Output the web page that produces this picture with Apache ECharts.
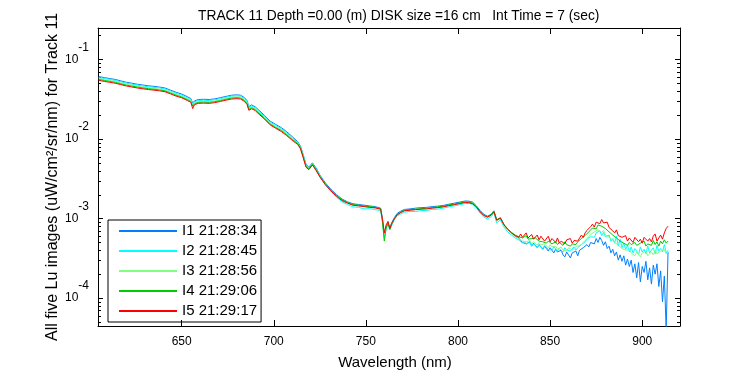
<!DOCTYPE html>
<html>
<head>
<meta charset="utf-8">
<script src="https://cdn.jsdelivr.net/npm/echarts@6/dist/echarts.min.js"></script>
<style>
  html, body { margin: 0; padding: 0; background: #fff; }
  #chart { width: 750px; height: 375px; }
</style>
</head>
<body>
<div id="chart"></div>
<script>
(function () {

    var FONT = '"Liberation Sans", Arial, Helvetica, sans-serif';

    // wavelength (nm)
    var wavelength = [
        605, 608, 611, 614, 617, 620, 623, 626, 629, 632, 635, 638, 641, 644, 647, 650, 653, 655,
        656, 657, 659, 662, 665, 668, 671, 674, 677, 680, 682, 684, 685.5, 686.5, 688, 690, 692, 695, 698,
        701, 704, 707, 710, 713, 714.5, 716, 717.5, 719, 721, 723, 725, 728, 731, 734, 737, 740,
        743, 746, 749, 752, 755, 758, 759, 760, 761, 762, 763, 764, 765.5, 767, 769,
        771, 774, 777, 780, 783, 786, 789, 792, 795, 798, 801, 804,
        806, 808, 810, 812, 814, 816, 818, 819.5, 821, 823, 825, 827, 829, 831, 833,
        834, 835, 836, 837, 838, 839, 840, 841, 842, 843, 844, 845, 846, 847, 848, 849, 850, 851, 852, 853,
        854, 855, 856, 857, 858, 859, 860, 861, 862, 863, 864, 865, 866, 867, 868, 869, 870, 871, 872, 873,
        874, 875, 876, 877, 878, 879, 880, 881, 882, 883, 884, 885, 886, 887, 888, 889, 890, 891, 892, 893,
        894, 895, 896, 897, 898, 899, 900, 901, 902, 903, 904, 905, 906, 907, 908, 909, 910, 911, 912, 913, 914
    ];

    var i1 = [
        .0606, .0588, .0572, .0557, .0535, .0514, .0500, .0485, .0474, .0464, .0456, .0447, .0435, .0409, .0384, .0366, .0339, .0321,
        .0281, .0300, .0312, .0314, .0312, .0318, .0329, .0341, .0353, .0357, .0353, .0331, .0302, .0254, .0267, .0252, .0228, .0197, .0167,
        .0152, .0139, .0123, .0107, .0092, .0081, .0063, .0048, .0044, .0050, .0043, .00352, .00280, .00233, .00200, .00176, .00162,
        .00153, .00150, .00147, .00144, .00141, .00135, .00100, .00062, .00078, .00087, .00076, .00088, .00103, .00116, .00124,
        .00130, .00132, .00135, .00137, .00138, .00141, .00143, .00146, .00151, .00156, .00161, .00166,
        .00165, .00160, .00144, .00126, .00113, .00107, .00113, .00125, .00096, .00102, .00083, .00073, .00066, .00060, .00057,
        .00053, .00050, .00052, .00048, .00047, .00051, .00045, .00049, .00046, .00043, .00047, .00044, .00041, .00045, .00042, .00039, .00043, .00040, .00037, .00041,
        .00038, .00036, .00040, .00035, .00033, .00038, .00036, .00032, .00037, .00035, .00039, .00034, .00040, .00038, .00043, .00041, .00047, .00044, .00050, .00052,
        .00048, .00056, .00050, .00058, .00053, .00046, .00051, .00042, .00045, .00037, .00041, .00034, .00038, .00030, .00035, .00029, .00034, .00026, .00031, .00025,
        .00030, .00021, .00027, .00018, .00028, .00016, .00025, .00021, .00029, .00017, .00024, .00015, .00026, .00020, .00027, .00014, .00022, .00009, .00019, .00004, .00038
    ];

    var i2 = [
        .0589, .0572, .0556, .0541, .0520, .0500, .0486, .0472, .0460, .0451, .0443, .0435, .0422, .0398, .0373, .0355, .0330, .0312,
        .0273, .0291, .0303, .0305, .0303, .0309, .0319, .0332, .0343, .0347, .0343, .0321, .0294, .0247, .0260, .0245, .0221, .0192, .0163,
        .0147, .0135, .0119, .0104, .0090, .0079, .0061, .0047, .0043, .0049, .0042, .00343, .00268, .00220, .00186, .00162, .00150,
        .00140, .00138, .00132, .00133, .00129, .00126, .00090, .00057, .00075, .00084, .00072, .00082, .00097, .00108, .00114,
        .00120, .00123, .00122, .00126, .00126, .00130, .00131, .00135, .00140, .00144, .00149, .00154,
        .00155, .00150, .00136, .00117, .00104, .00099, .00105, .00117, .00088, .00096, .00078, .00068, .00062, .00057, .00054,
        .00051, .00049, .00052, .00048, .00047, .00050, .00045, .00048, .00046, .00043, .00047, .00045, .00042, .00046, .00044, .00041, .00043, .00040, .00044, .00042,
        .00039, .00042, .00041, .00038, .00043, .00040, .00042, .00039, .00041, .00044, .00040, .00043, .00045, .00047, .00049, .00051, .00055, .00054, .00059, .00062,
        .00058, .00066, .00063, .00070, .00061, .00067, .00059, .00057, .00062, .00052, .00056, .00049, .00060, .00045, .00055, .00043, .00049, .00041, .00046, .00038,
        .00044, .00037, .00042, .00039, .00035, .00044, .00038, .00041, .00036, .00045, .00037, .00040, .00043, .00036, .00046, .00039, .00042, .00038, .00047, .00037, .00040
    ];

    var i3 = [
        .0572, .0555, .0540, .0525, .0505, .0485, .0472, .0458, .0447, .0438, .0430, .0422, .0410, .0386, .0362, .0345, .0320, .0303,
        .0265, .0283, .0294, .0296, .0294, .0300, .0310, .0322, .0333, .0337, .0333, .0312, .0285, .0240, .0252, .0238, .0215, .0186, .0158,
        .0143, .0131, .0116, .0101, .0088, .0078, .0060, .0046, .0042, .0048, .0041, .0034, .0027, .00225, .00193, .00170, .00157,
        .00148, .00145, .00142, .00139, .00137, .00131, .00095, .00060, .00080, .00090, .00074, .00086, .00100, .00112, .00120,
        .00126, .00128, .00130, .00132, .00133, .00136, .00138, .00141, .00146, .00150, .00155, .00160,
        .00160, .00155, .00140, .00122, .00110, .00104, .00110, .00122, .00094, .00100, .00082, .00072, .00065, .00060, .00056,
        .00055, .00052, .00054, .00051, .00050, .00053, .00048, .00051, .00049, .00046, .00050, .00047, .00045, .00048, .00046, .00043, .00047, .00044, .00042, .00045,
        .00041, .00043, .00044, .00040, .00042, .00039, .00043, .00041, .00040, .00043, .00042, .00045, .00044, .00047, .00050, .00052, .00056, .00058, .00063, .00064,
        .00068, .00066, .00072, .00070, .00067, .00071, .00062, .00065, .00059, .00056, .00053, .00050, .00048, .00046, .00044, .00042, .00043, .00040, .00039, .00041,
        .00037, .00039, .00034, .00038, .00036, .00033, .00037, .00035, .00039, .00034, .00036, .00038, .00035, .00040, .00036, .00034, .00039, .00037, .00041, .00036, .00038
    ];

    var i4 = [
        .0558, .0541, .0527, .0512, .0492, .0473, .0460, .0447, .0436, .0427, .0419, .0411, .0400, .0376, .0353, .0336, .0312, .0295,
        .0258, .0276, .0287, .0289, .0287, .0293, .0302, .0314, .0325, .0329, .0325, .0304, .0278, .0234, .0246, .0232, .0210, .0181, .0154,
        .0139, .0128, .0113, .00985, .0087, .0077, .0059, .0045, .0042, .0048, .0041, .00338, .00272, .00227, .00195, .00172, .00159,
        .00150, .00147, .00144, .00141, .00138, .00133, .00092, .00052, .00076, .00088, .00073, .00084, .00099, .00113, .00121,
        .00127, .00130, .00131, .00133, .00135, .00137, .00140, .00143, .00148, .00152, .00157, .00162,
        .00161, .00156, .00141, .00123, .00111, .00105, .00112, .00124, .00096, .00102, .00084, .00074, .00067, .00062, .00059,
        .00060, .00057, .00059, .00061, .00055, .00058, .00056, .00053, .00057, .00054, .00052, .00055, .00051, .00054, .00049, .00052, .00053, .00048, .00050, .00051,
        .00047, .00050, .00048, .00046, .00051, .00047, .00049, .00045, .00048, .00050, .00047, .00051, .00053, .00056, .00057, .00061, .00064, .00068, .00071, .00076,
        .00079, .00074, .00083, .00086, .00080, .00081, .00075, .00073, .00068, .00066, .00062, .00060, .00057, .00055, .00052, .00054, .00049, .00051, .00046, .00050,
        .00047, .00045, .00050, .00046, .00044, .00049, .00047, .00052, .00045, .00048, .00050, .00046, .00053, .00047, .00051, .00045, .00052, .00048, .00054, .00049, .00052
    ];

    var i5 = [
        .0543, .0527, .0513, .0499, .0480, .0461, .0448, .0435, .0425, .0416, .0409, .0401, .0390, .0367, .0344, .0328, .0304, .0288,
        .0240, .0269, .0279, .0281, .0279, .0285, .0295, .0306, .0316, .0320, .0316, .0296, .0271, .0228, .0239, .0226, .0204, .0177, .0150,
        .0136, .0124, .0110, .00960, .0085, .0075, .0058, .0044, .0041, .0047, .0040, .00333, .00265, .00222, .00190, .00168, .00156,
        .00147, .00144, .00141, .00138, .00136, .00131, .00098, .00066, .00083, .00092, .00075, .00087, .00100, .00111, .00119,
        .00125, .00127, .00129, .00131, .00132, .00135, .00137, .00140, .00145, .00149, .00154, .00159,
        .00158, .00153, .00139, .00121, .00109, .00104, .00110, .00121, .00095, .00101, .00083, .00073, .00066, .00061, .00058,
        .00064, .00058, .00061, .00066, .00057, .00060, .00063, .00055, .00057, .00062, .00054, .00060, .00058, .00052, .00055, .00060, .00051, .00056, .00053, .00050,
        .00057, .00049, .00052, .00055, .00048, .00054, .00051, .00056, .00049, .00053, .00056, .00052, .00057, .00062, .00058, .00066, .00071, .00074, .00079, .00085,
        .00078, .00090, .00095, .00086, .00097, .00088, .00084, .00090, .00077, .00080, .00070, .00066, .00072, .00061, .00064, .00058, .00056, .00061, .00052, .00057,
        .00054, .00050, .00058, .00060, .00051, .00055, .00049, .00058, .00061, .00052, .00056, .00051, .00060, .00064, .00052, .00057, .00062, .00055, .00066, .00075, .00080
    ];

    var names = ['I1 21:28:34', 'I2 21:28:45', 'I3 21:28:56', 'I4 21:29:06', 'I5 21:29:17'];
    var colors = ['#0080ff', '#00ffff', '#80ff80', '#00cc00', '#ff0000'];
    var values = [i1, i2, i3, i4, i5];

    var xMin = 604.6, xMax = 920.5;
    var yMin = 4.47e-5, yMax = 0.2466;

    // minor log ticks (2..9 x 10^n) inside the range
    var minorTicks = [];
    for (var e = -5; e <= -1; e++) {
        for (var m = 2; m <= 9; m++) {
            var v = m * Math.pow(10, e);
            if (v > yMin && v < yMax) minorTicks.push([xMin, v]);
        }
    }

    var series = values.map(function (arr, k) {
        return {
            name: names[k], type: 'line', symbol: 'none', showSymbol: false,
            lineStyle: { color: colors[k], width: 1 }, itemStyle: { color: colors[k] },
            data: wavelength.map(function (w, i) { return [w, arr[i]]; })
        };
    });

    series.push({
        type: 'custom', silent: true, clip: false, data: minorTicks,
        renderItem: function (params, api) {
            var v = api.value(1);
            var l = api.coord([xMin, v]);
            var r = api.coord([xMax, v]);
            var y = Math.round(l[1]) + 0.5;
            var st = { stroke: '#000', lineWidth: 1 };
            return { type: 'group', children: [
                { type: 'line', shape: { x1: l[0], y1: y, x2: l[0] + 3, y2: y }, style: st },
                { type: 'line', shape: { x1: r[0] - 3, y1: y, x2: r[0], y2: y }, style: st }
            ] };
        }
    });

    var axisLine = { show: true, lineStyle: { color: '#000', width: 1 } };

    var chart = echarts.init(document.getElementById('chart'), null, { renderer: 'canvas' });
    chart.setOption({
        animation: false,
        backgroundColor: '#fff',
        title: {
            text: 'TRACK 11 Depth =0.00 (m) DISK size =16 cm   Int Time = 7 (sec)',
            left: 193, top: 4,
            textStyle: { fontFamily: FONT, fontSize: 13.8, fontWeight: 'normal', color: '#000' }
        },
        legend: {
            orient: 'vertical', left: 108, top: 220,
            data: names,
            icon: 'rect', itemWidth: 58, itemHeight: 2, itemGap: 2,
            padding: [2, 4, 2, 11],
            borderColor: '#000', borderWidth: 1, borderRadius: 0,
            textStyle: { fontFamily: FONT, fontSize: 15, color: '#000', lineHeight: 18 }
        },
        grid: { left: 98, right: 70, top: 28, bottom: 44 },
        xAxis: [{
            type: 'value', min: xMin, max: xMax,
            name: 'Wavelength (nm)', nameLocation: 'middle', nameGap: 29, nameMoveOverlap: false,
            nameTextStyle: { fontFamily: FONT, fontSize: 15, color: '#000', padding: [0, 0, 0, 12] },
            axisLine: axisLine, splitLine: { show: false },
            axisTick: { inside: true, length: 6, lineStyle: { color: '#000' } },
            axisLabel: { showMinLabel: false, showMaxLabel: false, margin: 10,
                fontFamily: FONT, fontSize: 12, color: '#000' }
        }, {
            type: 'value', min: xMin, max: xMax, position: 'top',
            axisLine: axisLine, splitLine: { show: false },
            axisTick: { inside: true, length: 6, lineStyle: { color: '#000' } },
            axisLabel: { show: false }
        }],
        yAxis: [{
            type: 'log', logBase: 10, min: yMin, max: yMax,
            name: 'All five Lu images (uW/cm²/sr/nm) for Track 11',
            nameLocation: 'middle', nameGap: 37, nameMoveOverlap: false,
            nameTextStyle: { fontFamily: FONT, fontSize: 16, color: '#000' },
            axisLine: axisLine, splitLine: { show: false },
            axisTick: { inside: true, length: 5, lineStyle: { color: '#000' } },
            axisLabel: {
                showMinLabel: false, showMaxLabel: false, margin: 9,
                formatter: function (val) {
                    return '{b|10}{s|' + Math.round(Math.log10(val)) + '}';
                },
                rich: {
                    b: { fontFamily: FONT, fontSize: 12, color: '#000', lineHeight: 36 },
                    s: { fontFamily: FONT, fontSize: 12, color: '#000', lineHeight: 12, verticalAlign: 'top' }
                }
            }
        }, {
            type: 'log', logBase: 10, min: yMin, max: yMax, position: 'right',
            axisLine: axisLine, splitLine: { show: false },
            axisTick: { inside: true, length: 5, lineStyle: { color: '#000' } },
            axisLabel: { show: false }
        }],
        series: series
    });

})();
</script>
</body>
</html>
